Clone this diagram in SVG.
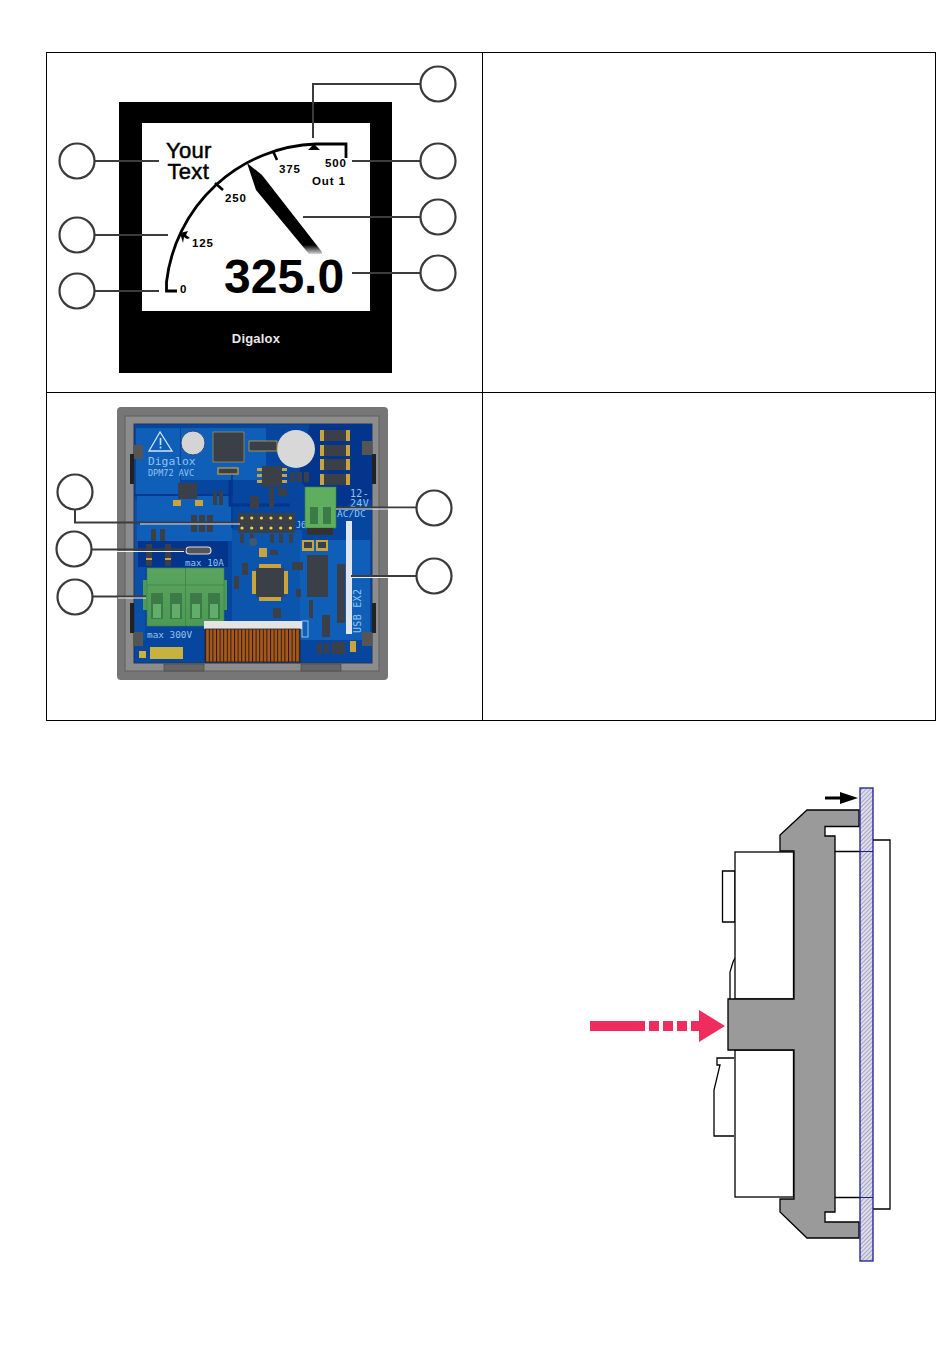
<svg xmlns="http://www.w3.org/2000/svg" width="950" height="1369" viewBox="0 0 950 1369">
<style>
text{font-family:"Liberation Sans",Arial,sans-serif}
.c{fill:#fff;stroke:#3a3a3a;stroke-width:2.200}
.l{fill:none;stroke:#3c3c3c;stroke-width:2}
.lw{fill:none;stroke:#fff;stroke-width:1}
.g{font-weight:700;font-size:11.5px;letter-spacing:.9px;fill:#000}
.big{font-size:22px;stroke:#000;stroke-width:.5px;fill:#000;letter-spacing:.3px}
.m{font-family:"DejaVu Sans Mono","Liberation Mono",monospace;fill:#8fc4ee;font-size:10px}
.o{fill:#fff;stroke:#000;stroke-width:1.3}
.s{fill:#9a9a9a;stroke:#000;stroke-width:1.3}
.ch{fill:#3b4048}
.au{fill:#c9a43c}
.dk{fill:#04358c}
.lt{fill:#0f5fb8}
</style>
<defs>
<pattern id="h" width="3" height="3" patternUnits="userSpaceOnUse" patternTransform="rotate(-45)">
<rect width="3" height="3" fill="#e2e2ee"/><rect width="3" height="1.1" fill="#a5a5c2"/>
</pattern>
<pattern id="rib" width="3.6" height="10" patternUnits="userSpaceOnUse">
<rect width="3.6" height="10" fill="#a9591c"/><rect width="1" height="10" fill="#2b1a0c"/>
</pattern>
<linearGradient id="nd" x1="0" y1="0" x2="0" y2="1"><stop offset=".9" stop-color="#000"/><stop offset="1" stop-color="#000" stop-opacity=".15"/></linearGradient>
<linearGradient id="tg" x1="0" y1="0" x2="0" y2="1"><stop offset="0" stop-color="#5aa45f"/><stop offset="1" stop-color="#4c9a55"/></linearGradient>
</defs>
<rect width="950" height="1369" fill="#fff"/>
<g id="table" fill="none" stroke="#000" stroke-width="1">
<rect x="46.5" y="52.5" width="889" height="668"/>
<path d="M482.500 52.500V720.500M46.500 392.500H935.500"/>
</g>
<g id="display">
<rect x="119" y="102" width="273" height="271" fill="#000"/>
<rect x="142" y="123" width="228" height="188" fill="#fff"/>
<text x="256" y="343" font-size="13" font-weight="700" fill="#e8e8e8" text-anchor="middle" letter-spacing=".2">Digalox</text>
<path d="M177 291H166.500V282A156 156 0 0 1 316 144H346V158" fill="none" stroke="#000" stroke-width="2.800"/>
<path d="M215 183L223 190M273 151L277 160" stroke="#000" stroke-width="2.600" fill="none"/>
<path d="M180 233L188 231L186 235L190 238L187 239L184 237L183 243Z" fill="#000"/>
<path d="M308 150H320L314 144Z" fill="#000"/>
<path d="M247 163L262 175L322 252V254H309L256 190Z" fill="url(#nd)"/>
<text class="big" x="166" y="158">Your</text>
<text class="big" x="167.500" y="179">Text</text>
<text x="224" y="293" font-size="48" font-weight="700">325.0</text>
<text class="g" x="180" y="293">0</text>
<text class="g" x="192" y="247">125</text>
<text class="g" x="225" y="202">250</text>
<text class="g" x="279" y="173">375</text>
<text class="g" x="325" y="167">500</text>
<text class="g" x="312" y="185">Out 1</text>
</g>
<g id="pcb">
<rect x="117" y="407" width="271" height="273" rx="4" fill="#767676"/>
<rect x="125" y="416" width="254" height="255" fill="#8c8c8c" stroke="#5e5e5e"/>
<rect x="134" y="424" width="238" height="239" fill="#0a50a8" stroke="#2a3550"/>
<path class="dk" d="M134 424H372V663H134V640H145V500H134Z" opacity=".35"/>
<path class="dk" d="M310 424H372V500H355L330 520L300 480V460Z"/>
<rect class="lt" x="136" y="428" width="44" height="66"/>
<rect class="lt" x="181" y="428" width="85" height="52"/>
<rect class="lt" x="137" y="496" width="96" height="26"/>
<rect class="lt" x="137" y="525" width="95" height="16"/>
<rect class="lt" x="300" y="540" width="70" height="100"/>
<rect class="lt" x="232" y="530" width="70" height="100" opacity=".6"/>
<rect class="dk" x="138" y="541" width="90" height="26"/>
<path d="M230 480V505H290" fill="none" stroke="#04358c" stroke-width="3"/>
<path d="M134 495H230M232 528V470" fill="none" stroke="#04358c" stroke-width="1.500"/>
<rect x="133" y="445" width="10" height="14" fill="#555"/><rect x="130" y="454" width="4" height="30" fill="#222"/>
<rect x="133" y="632" width="10" height="14" fill="#555"/><rect x="130" y="603" width="4" height="30" fill="#222"/>
<rect x="362" y="441" width="10" height="14" fill="#555"/><rect x="372" y="454" width="4" height="30" fill="#222"/>
<rect x="362" y="632" width="10" height="14" fill="#555"/><rect x="372" y="603" width="4" height="30" fill="#222"/>
<rect x="164" y="664" width="40" height="7" fill="#666" stroke="#444" stroke-width=".6"/>
<rect x="301" y="664" width="40" height="7" fill="#666" stroke="#444" stroke-width=".6"/>
<path d="M160 432L149 451H172Z" fill="none" stroke="#cfe4f7" stroke-width="1.300"/>
<rect x="159.700" y="438" width="1.600" height="7" fill="#cfe4f7"/><rect x="159.700" y="446.500" width="1.600" height="2" fill="#cfe4f7"/>
<text class="m" x="148" y="465" style="font-size:11.300px">Digalox</text>
<text class="m" x="148" y="476" style="font-size:8.500px">DPM72 AVC</text>
<circle cx="193" cy="443" r="12" fill="#d4d4d4" stroke="#284a80"/>
<rect class="ch" x="213" y="432" width="31" height="30" stroke="#c9a43c" stroke-width=".6"/>
<rect x="218" y="468" width="20" height="6" fill="#3b4048" stroke="#c9a43c" stroke-width="1.200"/>
<rect class="ch" x="178" y="483" width="19" height="16"/>
<rect class="au" x="173" y="500" width="8" height="6"/><rect class="au" x="195" y="500" width="8" height="6"/>
<rect class="ch" x="191" y="515" width="6" height="17"/><rect class="ch" x="199" y="515" width="6" height="17"/><rect class="ch" x="207" y="515" width="6" height="17"/>
<rect class="ch" x="151" y="529" width="5" height="12"/><rect class="ch" x="160" y="529" width="5" height="12"/>
<rect class="ch" x="146" y="544" width="6" height="22"/><rect class="ch" x="165" y="544" width="6" height="22"/>
<rect class="au" x="146" y="558" width="6" height="2"/><rect class="au" x="165" y="558" width="6" height="2"/>
<rect class="ch" x="213" y="491" width="4" height="14"/><rect class="ch" x="219" y="491" width="4" height="14"/>
<rect x="186" y="547" width="25" height="7" rx="3.500" fill="#555" stroke="#ddd" stroke-width="1.200"/>
<text class="m" x="185" y="566" style="font-size:9.200px">max 10A</text>
<text class="m" x="147" y="638" style="font-size:9.400px">max 300V</text>
<rect x="143" y="580" width="5" height="30" fill="#4c9a55"/><rect x="222" y="580" width="5" height="30" fill="#4c9a55"/>
<rect x="147" y="568" width="77" height="58" fill="url(#tg)" stroke="#3f7f48" stroke-width=".6"/>
<path d="M147 585H224M185.500 568V626" stroke="#3a7f45" stroke-width=".7"/>
<g fill="#3c7a48"><rect x="151" y="593" width="12" height="26"/><rect x="170" y="593" width="12" height="26"/><rect x="190" y="593" width="12" height="26"/><rect x="208" y="593" width="12" height="26"/></g>
<g fill="#62ad6a"><rect x="153" y="604" width="8" height="14"/><rect x="172" y="604" width="8" height="14"/><rect x="192" y="604" width="8" height="14"/><rect x="210" y="604" width="8" height="14"/></g>
<rect x="204" y="621" width="98" height="8" fill="#e4e4e4"/>
<rect x="302" y="621" width="6" height="16" fill="none" stroke="#bcd4ee" stroke-width=".8"/>
<rect x="205" y="629" width="95" height="33" fill="url(#rib)" stroke="#222" stroke-width=".8"/>
<rect x="150" y="647" width="33" height="12" fill="#c8b23e"/><rect x="139" y="651" width="7" height="7" fill="#c8b23e"/>
<g fill="#c9a43c"><rect x="320" y="430" width="30" height="11"/><rect x="320" y="445" width="30" height="11"/><rect x="320" y="459" width="30" height="11"/><rect x="320" y="474" width="30" height="11"/></g>
<g fill="#3b4048"><rect x="324" y="430" width="22" height="11"/><rect x="324" y="445" width="22" height="11"/><rect x="324" y="459" width="22" height="11"/><rect x="324" y="474" width="22" height="11"/></g>
<circle cx="296" cy="449" r="19" fill="#d8d8d8"/>
<rect class="ch" x="249" y="441" width="28" height="10" stroke="#c9a43c" stroke-width=".8"/>
<rect class="ch" x="262" y="466" width="20" height="21"/>
<g class="au"><rect x="257" y="468" width="5" height="3"/><rect x="257" y="474" width="5" height="3"/><rect x="257" y="480" width="5" height="3"/><rect x="282" y="468" width="5" height="3"/><rect x="282" y="474" width="5" height="3"/><rect x="282" y="480" width="5" height="3"/></g>
<rect class="ch" x="290" y="472" width="5" height="10"/><rect class="ch" x="297" y="472" width="5" height="10"/><rect class="ch" x="304" y="472" width="5" height="10"/>
<rect class="ch" x="250" y="496" width="9" height="13"/><rect class="ch" x="269" y="488" width="5" height="20"/><rect class="ch" x="278" y="488" width="9" height="8"/>
<rect class="ch" x="238" y="513" width="57" height="20"/>
<g fill="#f2d53c"><circle cx="242" cy="518" r="1.600"/><circle cx="251.700" cy="518" r="1.600"/><circle cx="261.400" cy="518" r="1.600"/><circle cx="271" cy="518" r="1.600"/><circle cx="280.700" cy="518" r="1.600"/><circle cx="290.400" cy="518" r="1.600"/><circle cx="242" cy="528" r="1.600"/><circle cx="251.700" cy="528" r="1.600"/><circle cx="261.400" cy="528" r="1.600"/><circle cx="271" cy="528" r="1.600"/><circle cx="280.700" cy="528" r="1.600"/><circle cx="290.400" cy="528" r="1.600"/></g>
<g class="ch"><rect x="240" y="534" width="4" height="9"/><rect x="250" y="534" width="4" height="9"/><rect x="270" y="534" width="4" height="9"/><rect x="279" y="534" width="4" height="9"/><rect x="289" y="534" width="4" height="9"/></g>
<circle cx="253" cy="542" r="4" fill="#3e5a70"/>
<text class="m" x="296" y="528" style="font-size:8.500px">J6</text>
<rect class="au" x="302" y="540" width="12" height="11"/><rect class="au" x="316" y="540" width="12" height="11"/>
<rect class="ch" x="304" y="542" width="8" height="6"/><rect class="ch" x="318" y="542" width="8" height="6"/>
<rect class="au" x="259" y="548" width="8" height="9"/><rect class="ch" x="270" y="550" width="8" height="5"/>
<g class="au"><rect x="252" y="571" width="4" height="23"/><rect x="284" y="571" width="4" height="23"/><rect x="259" y="564" width="22" height="4"/><rect x="259" y="597" width="22" height="4"/></g>
<rect class="ch" x="256" y="568" width="28" height="29"/>
<rect class="ch" x="242" y="563" width="6" height="12"/><rect class="ch" x="234" y="576" width="5" height="13"/>
<rect class="ch" x="292" y="562" width="11" height="8"/><rect class="ch" x="296" y="589" width="5" height="8"/>
<rect class="ch" x="307" y="555" width="21" height="42"/>
<rect class="ch" x="273" y="608" width="8" height="10"/><rect class="ch" x="309" y="600" width="4" height="18"/>
<rect class="ch" x="322" y="615" width="8" height="22"/><rect class="ch" x="317" y="643" width="5" height="11"/><rect class="ch" x="324" y="643" width="5" height="11"/><rect class="ch" x="332" y="642" width="13" height="12"/><rect class="au" x="350" y="641" width="6" height="11"/>
<rect x="305" y="487" width="31" height="41" fill="#5fae5f" stroke="#3f7f48" stroke-width=".6"/>
<rect x="307" y="528" width="26" height="7" fill="#333"/>
<rect x="310" y="507" width="8" height="17" fill="#3c7a48"/><rect x="323" y="507" width="8" height="17" fill="#3c7a48"/>
<text class="m" x="350" y="497" letter-spacing=".3">12-</text>
<text class="m" x="350" y="507" letter-spacing=".3">24V</text>
<text class="m" x="337" y="517" style="font-size:9.500px">AC/DC</text>
<rect class="ch" x="337" y="564" width="8" height="59"/>
<rect x="346" y="521" width="6" height="113" fill="#dfe6ee"/>
<text class="m" transform="translate(361,633) rotate(-90)" letter-spacing=".3">USB EX2</text>
</g>
<g id="connectors">
<path class="l" d="M95 161H159M95 235H168M95 291H159M420 84H313V138M420 161H352M420 217H303M420 273H352"/>
<path class="l" d="M75 510V522.500H238M92 549.500H186M93 596.500H146M416 507.500H336M416 576H351"/>
<path class="lw" d="M140 524H240M116 551.500H184M118 598H146M416 509H336M400 577.500H352" opacity=".9"/>
</g>
<g id="n1"><circle class="c" cx="77" cy="161" r="17.500"/></g>
<g id="n2"><circle class="c" cx="77" cy="235" r="17.500"/></g>
<g id="n3"><circle class="c" cx="77" cy="291" r="17.500"/></g>
<g id="n4"><circle class="c" cx="438" cy="84" r="17.500"/></g>
<g id="n5"><circle class="c" cx="438" cy="161" r="17.500"/></g>
<g id="n6"><circle class="c" cx="438" cy="217" r="17.500"/></g>
<g id="n7"><circle class="c" cx="438" cy="273" r="17.500"/></g>
<g id="n8"><circle class="c" cx="75" cy="492" r="17.500"/></g>
<g id="n9"><circle class="c" cx="74" cy="549" r="17.500"/></g>
<g id="n10"><circle class="c" cx="75" cy="597" r="17.500"/></g>
<g id="n11"><circle class="c" cx="434" cy="508" r="17.500"/></g>
<g id="n12"><circle class="c" cx="434" cy="576" r="17.500"/></g>
<g id="side">
<path class="o" d="M873 840H890V1209H873"/>
<path class="o" d="M835 851.500H873M835 1197.500H873"/>
<path class="o" d="M722.500 871H735V922H722.500Z"/>
<path class="o" d="M730 999V972L733 962L735 958"/>
<path class="o" d="M734 1058H717V1065H720L714 1090V1136H734"/>
<rect class="o" x="735" y="852" width="58.500" height="147"/>
<rect class="o" x="735" y="1050" width="58.500" height="147"/>
<path class="s" d="M807 810H859V826.500H825V836H835V1212H825V1222H859V1238H807L780 1212V1199H794V1050H728V999H794V851H780V835Z"/>
<rect x="860" y="788" width="13" height="473" fill="url(#h)" stroke="#1c1c94" stroke-width="1.300"/>
<path d="M860 851.500H873M860 1197.500H873" stroke="#1c1c94" fill="none"/>
<path d="M840 792L858 798L840 804Z" fill="#000"/>
<rect x="825" y="796.500" width="16" height="3" fill="#000"/>
<g fill="#ee2c5e">
<rect x="590" y="1021" width="55" height="10"/>
<rect x="649" y="1021" width="10" height="10"/>
<rect x="663" y="1021" width="10" height="10"/>
<rect x="677" y="1021" width="10" height="10"/>
<rect x="691" y="1021" width="9" height="10"/>
<path d="M699 1010L725 1026L699 1042Z"/>
</g>
</g>
</svg>
